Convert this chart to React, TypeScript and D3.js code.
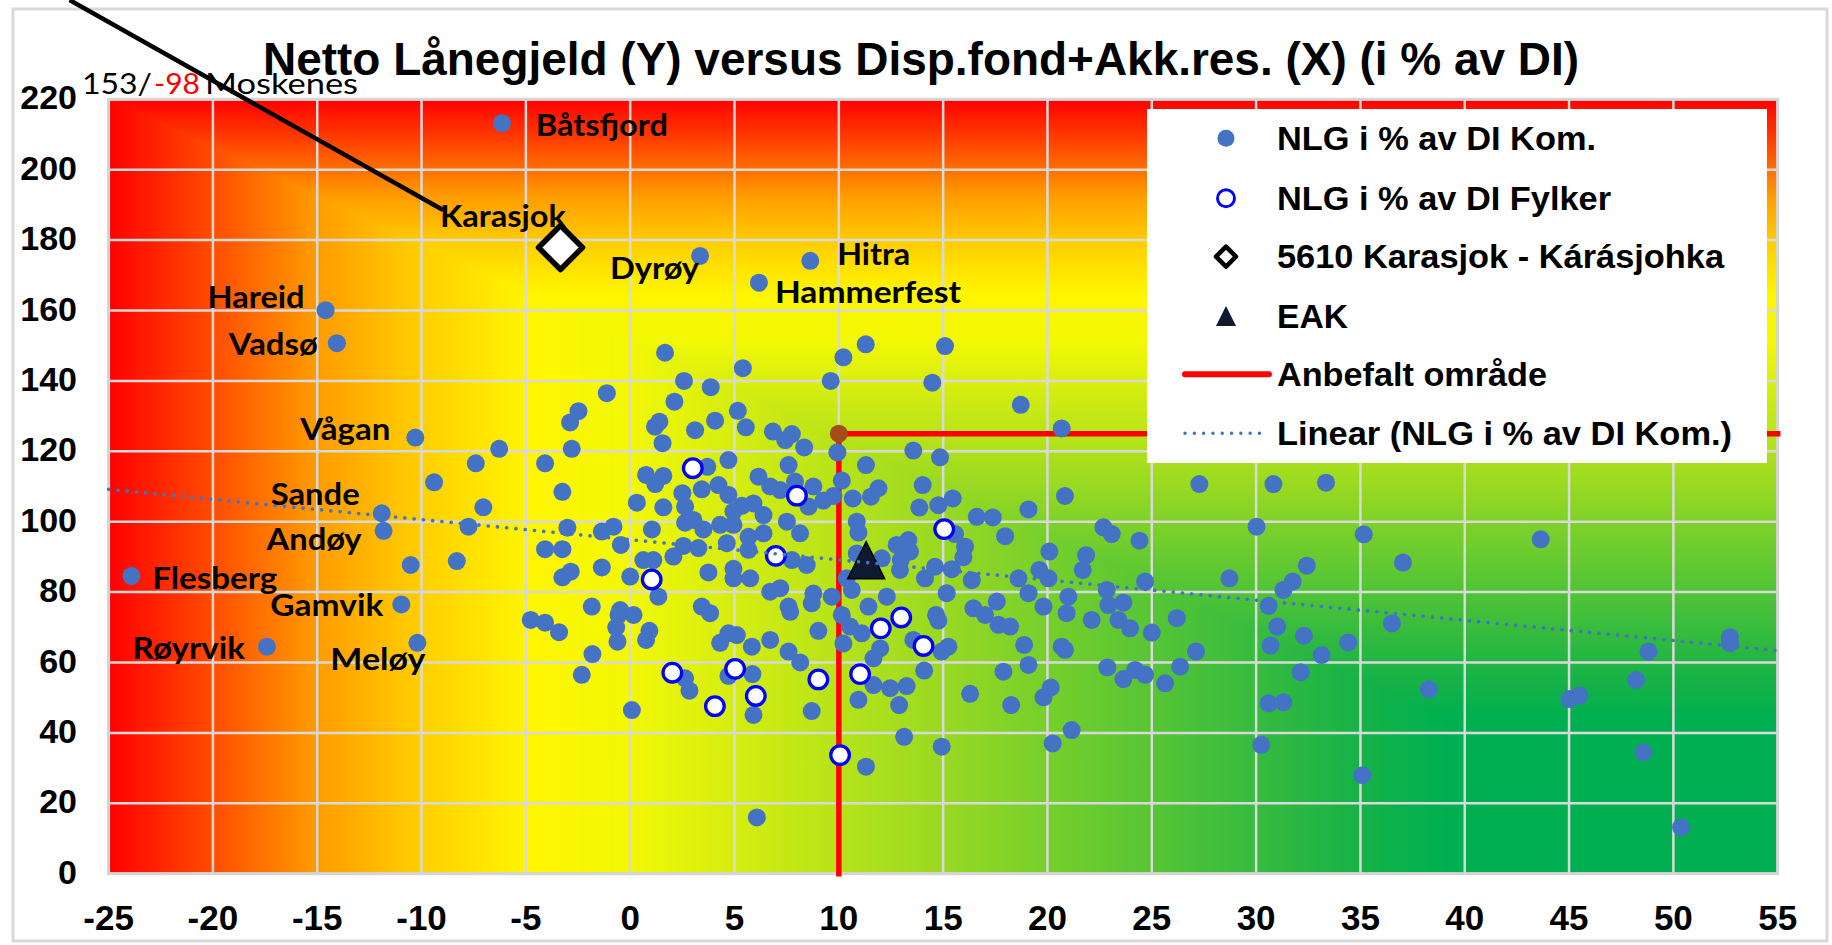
import React from "react";
import * as d3 from "d3";

// ---------- DATA ----------
const xTicks = [-25, -20, -15, -10, -5, 0, 5, 10, 15, 20, 25, 30, 35, 40, 45, 50, 55];
const yTicks = [0, 20, 40, 60, 80, 100, 120, 140, 160, 180, 200, 220];

const chartTitle = "Netto Lånegjeld (Y) versus Disp.fond+Akk.res. (X) (i % av DI)";

// NLG i % av DI Kom. (unlabelled kommuner) [Disp.fond+Akk.res, NLG]
const kommunePoints: [number, number][] = [
  [1.67,148.0],[5.4,143.6],[2.58,140.0],[3.86,138.2],[-1.12,136.5],[2.12,134.1],[5.16,131.5],[-2.48,131.4],[-2.88,128.2],[1.40,128.4],
  [4.07,128.7],[3.11,126.0],[5.54,126.8],[1.19,127.0],[1.55,122.3],[6.84,125.6],[7.75,124.9],[7.43,123.2],[8.34,121.1],[-2.8,120.7],
  [-6.28,120.7],[-7.4,116.6],[-4.08,116.6],[-9.4,111.2],[4.71,117.5],[3.7,115.6],[7.59,116.1],[0.76,113.3],[1.59,113.0],[1.2,110.7],
  [6.15,112.8],[6.71,110.0],[7.19,109.0],[7.9,111.4],[-3.25,108.5],[2.5,108.1],[3.43,109.2],[4.23,110.4],[4.71,107.6],[0.32,105.4],
  [1.59,104.1],[-7.04,104.1],[2.63,104.3],[5.35,104.5],[5.91,105.2],[8.55,104.3],[6.39,101.9],[7.51,100.0],[8.14,96.7],[2.63,99.7],
  [3.51,97.8],[4.31,99.1],[4.95,99.1],[-7.75,98.6],[-3.01,98.3],[-1.36,97.2],[-0.8,98.6],[1.04,97.8],[5.67,95.7],[6.39,96.7],
  [-4.08,92.2],[-3.25,92.2],[-0.45,93.4],[2.55,93.1],[3.27,92.5],[4.63,93.9],[5.67,92.0],[7.75,89.1],[8.46,87.7],[0.63,89.1],
  [1.11,89.1],[2.07,90.1],[-8.31,88.8],[-10.52,87.7],[-1.36,87.0],[3.75,85.6],[4.95,86.6],[5.75,83.9],[-3.25,84.2],[-2.85,85.8],
  [0.0,84.4],[1.35,78.7],[4.95,83.9],[6.71,80.1],[7.19,81.1],[8.78,79.6],[-1.84,75.9],[3.43,75.9],[-0.48,74.9],[7.59,75.9],
  [3.03,100.5],[4.95,102.9],
  [-4.77,72.1],[-4.08,71.3],[-3.41,68.6],[-0.56,73.5],[0.16,73.5],[-0.67,70.0],[-0.61,65.9],[0.92,69.0],[0.76,66.4],[-1.81,62.4],
  [-2.32,56.5],[0.08,46.5],[3.83,74.0],[4.71,68.3],[4.31,65.6],[5.11,67.8],[5.83,64.5],[6.71,66.4],[7.67,74.4],[7.59,63.1],
  [8.15,60.0],[8.7,76.8],[2.63,55.5],[2.84,52.0],[4.71,56.2],[5.86,56.7],[5.91,45.1],[6.07,16.0],[8.7,46.2],
  [11.29,150.4],[10.22,146.7],[15.09,149.9],[9.61,140.0],[14.48,139.5],[18.72,133.2],[20.68,126.5],[9.93,119.7],[13.57,120.2],[14.85,118.3],
  [11.3,116.1],[10.14,111.7],[14.02,110.4],[27.28,110.7],[20.84,107.3],[11.9,109.5],[11.54,107.1],[10.67,106.6],[9.74,107.3],[8.78,110.0],
  [9.26,106.0],[13.86,104.0],[15.46,106.6],[14.77,104.7],[19.09,103.5],[16.61,101.4],[17.38,101.2],[10.86,100.0],[10.94,96.9],[15.57,96.5],
  [17.97,95.9],[22.68,98.4],[23.08,96.5],[24.41,94.6],[20.09,91.5],[21.85,90.5],[16.05,92.9],[15.97,89.9],[14.61,87.2],[15.41,86.5],
  [16.37,83.4],[13.33,94.8],[12.77,93.4],[13.41,91.5],[12.97,89.1],[12.06,89.6],[12.93,86.3],[14.13,83.9],[10.86,91.0],[9.66,78.7],
  [10.62,80.6],[15.17,79.7],[17.57,77.3],[18.61,83.9],[19.61,86.3],[20.05,83.9],[19.09,79.7],[21.0,78.7],[21.69,86.3],[22.84,80.6],
  [23.64,77.0],[24.68,83.0],[28.72,83.9],[12.3,78.7],[10.38,83.9],
  [9.02,69.0],[10.14,73.5],[10.22,65.4],[10.54,70.2],[11.1,68.3],[11.98,64.0],[11.66,61.2],[11.42,75.9],[10.94,49.4],[11.66,53.6],
  [12.46,52.7],[13.25,53.3],[12.89,47.9],[13.13,38.9],[11.3,30.4],[14.93,36.1],[14.09,57.7],[14.66,73.5],[14.77,71.9],[15.25,64.5],
  [14.93,63.1],[13.57,66.4],[16.45,75.4],[17.01,73.5],[17.65,70.7],[18.21,70.2],[19.81,75.9],[20.92,74.0],[22.12,72.1],[18.88,65.0],
  [17.89,57.4],[19.09,59.3],[16.29,51.1],[18.26,47.9],[20.68,64.5],[20.84,63.6],[19.81,50.1],[20.16,52.9],[21.16,40.8],[20.25,37.0],
  [22.92,76.3],[23.4,72.1],[23.96,69.7],[25.0,68.5],[26.2,72.6],[27.12,63.1],[22.87,58.6],[23.64,55.3],[24.2,57.9],[24.68,56.5],
  [25.64,54.1],[26.36,58.8],
  [30.83,110.7],[33.35,111.1],[30.02,98.6],[35.16,96.4],[43.64,95.0],[37.04,88.4],[32.43,87.5],[31.75,83.0],[31.31,80.6],[30.6,76.1],
  [31.01,70.2],[32.29,67.6],[30.69,64.8],[33.14,62.1],[34.41,65.7],[36.51,71.1],[32.14,57.2],[30.6,48.4],[31.31,48.7],[38.28,52.4],
  [45.02,49.6],[45.5,50.6],[48.21,55.0],[48.81,63.1],[52.71,65.5],[52.71,67.2],[30.25,36.6],[35.09,28.0],[48.57,34.5],[50.37,13.2],
];

// Labelled kommuner
const labelledNames = ["Båtsfjord", "Dyrøy", "Hitra", "Hammerfest", "Hareid", "Vadsø", "Vågan", "Sande", "Andøy", "Flesberg", "Gamvik", "Røyrvik", "Meløy"];
const labelledX = [-6.15, 3.35, 8.63, 6.17, -14.6, -14.06, -10.3, -11.91, -11.82, -23.91, -10.97, -17.41, -10.2];
const labelledY = [213.2, 175.5, 174.1, 167.9, 160.1, 150.7, 123.9, 102.4, 97.4, 84.6, 76.5, 64.5, 65.6];

// NLG i % av DI Fylker
const fylkerPoints: [number, number][] = [
  [3.0,115.2],[7.99,107.4],[6.98,90.3],[1.03,83.6],[15.05,97.9],[2.02,57.1],[5.03,58.2],[6.02,50.5],[4.06,47.6],[9.02,55.2],
  [11.02,56.7],[12.01,69.7],[12.99,72.8],[14.06,64.7],[10.06,33.7],
];

// 5610 Karasjok - Kárásjohka
const karasjokName = "Karasjok";
const karasjokPoint: [number, number] = [-3.34, 177.9];

// EAK
const eakPoint: [number, number] = [11.31, 88.9];

// Anbefalt område
const anbefaltOmrade: [number, number][] = [[10, 0], [10, 125], [55, 125]];
const anbefaltCorner: [number, number] = [10, 125];

// Linear (NLG i % av DI Kom.) trend end points
const trendLine: [number, number][] = [[-25, 109.2], [55, 63.4]];

// Moskenes (outside the axis range), leader line in data units
const moskenesNLG = "153";
const moskenesDisp = "-98";
const moskenesName = "Moskenes";
const leaderLine: [number, number][] = [[-26.87, 248.2], [-8.97, 188.55]];

const legendLabels = [
  "NLG i % av DI Kom.",
  "NLG i % av DI Fylker",
  "5610 Karasjok - Kárásjohka",
  "EAK",
  "Anbefalt område",
  "Linear (NLG i % av DI Kom.)",
];

// ---------- LAYOUT / STYLE ----------
const W = 1832;
const H = 945;
const plot = { left: 108.6, right: 1777.7, top: 99.3, bottom: 873.7 };
const ARIAL = "'Liberation Sans', Arial, sans-serif";
const CAL = "Lato, 'Open Sans', sans-serif";
const BLUE = "#4472C4";

const labelLayout: Record<string, { dx: number; dy: number; w: number }> = {
  "Båtsfjord": { dx: 34, dy: 13, w: 132 },
  "Dyrøy": { dx: -90, dy: 23, w: 89 },
  "Hitra": { dx: 27, dy: 4, w: 73 },
  "Hammerfest": { dx: 16, dy: 20, w: 186 },
  "Hareid": { dx: -118, dy: -2, w: 97 },
  "Vadsø": { dx: -108, dy: 12, w: 89 },
  "Vågan": { dx: -115, dy: 2, w: 90 },
  "Sande": { dx: -111, dy: -8, w: 89 },
  "Andøy": { dx: -117, dy: 19, w: 95 },
  "Flesberg": { dx: 21, dy: 13, w: 125 },
  "Gamvik": { dx: -131, dy: 12, w: 113 },
  "Røyrvik": { dx: -134.5, dy: 12, w: 112.5 },
  "Meløy": { dx: -87, dy: 27, w: 95 },
  "Karasjok": { dx: -120.5, dy: -20.5, w: 126 },
};

const legendBox = { x: 1147, y: 109, w: 620, h: 354 };
const legendRowY = [138.3, 198.3, 256.7, 316, 374.3, 433.3];
const legendWidths = [319, 334, 447, 71, 270, 455];

// colour as a function of "distance" from bottom-right corner (0) to left/top edge (1)
const gradStops: [number, string][] = [
  [0, "#00B050"], [0.2, "#00B050"], [0.25, "#16B247"], [0.3125, "#36BB3E"], [0.375, "#56C535"],
  [0.4375, "#76CF2B"], [0.5, "#98D922"], [0.5625, "#B6E319"], [0.625, "#D4ED10"], [0.6875, "#F2F805"],
  [0.75, "#FFF500"], [0.8125, "#FFCF00"], [0.875, "#FF9C00"], [0.9375, "#FF4C00"], [1, "#FF0000"],
];

export default function App() {
  const x = d3.scaleLinear().domain([xTicks[0], xTicks[xTicks.length - 1]]).range([plot.left, plot.right]);
  const y = d3.scaleLinear().domain([yTicks[0], yTicks[yTicks.length - 1]]).range([plot.bottom, plot.top]);
  const line = d3.line<[number, number]>().x((d) => x(d[0])).y((d) => y(d[1]));

  const pw = plot.right - plot.left;
  const ph = plot.bottom - plot.top;

  const kx = x(karasjokPoint[0]);
  const ky = y(karasjokPoint[1]);
  const ex = x(eakPoint[0]);
  const ey = y(eakPoint[1]);

  const lgX = 1226;
  const lgTextX = 1277;

  return (
    <svg width={W} height={H} style={{ position: "absolute", left: 0, top: 0, background: "#fff" }}>
      <defs>
        <linearGradient id="gH" gradientUnits="userSpaceOnUse" x1={plot.right} y1={0} x2={plot.left} y2={0}>
          {gradStops.map(([o, c], i) => <stop key={i} offset={o} stopColor={c} />)}
        </linearGradient>
        <linearGradient id="gV" gradientUnits="userSpaceOnUse" x1={0} y1={plot.bottom} x2={0} y2={plot.top}>
          {gradStops.map(([o, c], i) => <stop key={i} offset={o} stopColor={c} />)}
        </linearGradient>
      </defs>

      {/* chart frame */}
      <rect x={13} y={9} width={1814} height={932} fill="#fff" stroke="#D9D9D9" strokeWidth={3} />

      {/* plot background: rectangular gradient from bottom-right corner */}
      <rect x={plot.left} y={plot.top} width={pw} height={ph} fill="url(#gH)" />
      <polygon
        points={`${plot.left},${plot.top} ${plot.right},${plot.top} ${plot.right},${plot.bottom}`}
        fill="url(#gV)"
      />

      {/* gridlines */}
      {xTicks.map((t) => (
        <line key={"gx" + t} x1={x(t)} x2={x(t)} y1={plot.top} y2={plot.bottom} stroke="#D9D9D9" strokeWidth={2.5} />
      ))}
      {yTicks.map((t) => (
        <line key={"gy" + t} x1={plot.left} x2={plot.right} y1={y(t)} y2={y(t)} stroke="#D9D9D9" strokeWidth={2.5} />
      ))}
      <rect x={plot.left} y={plot.top} width={pw} height={ph} fill="none" stroke="#D4D4D4" strokeWidth={3} />

      {/* tick labels */}
      {yTicks.map((t) => (
        <text key={"ty" + t} x={77} y={y(t) + 10} textAnchor="end" fontFamily={ARIAL} fontWeight="bold" fontSize={34} fill="#000">
          {t}
        </text>
      ))}
      {xTicks.map((t) => (
        <text key={"tx" + t} x={x(t)} y={930} textAnchor="middle" fontFamily={ARIAL} fontWeight="bold" fontSize={35} fill="#000">
          {t}
        </text>
      ))}

      {/* Anbefalt område */}
      <path d={line(anbefaltOmrade) || ""} fill="none" stroke="#FF0000" strokeWidth={5.5} strokeLinecap="square" />
      <circle cx={x(anbefaltCorner[0])} cy={y(anbefaltCorner[1])} r={9} fill="#A24E16" />

      {/* kommune points */}
      {kommunePoints.map((p, i) => (
        <circle key={"k" + i} cx={x(p[0])} cy={y(p[1])} r={9} fill={BLUE} />
      ))}
      {labelledNames.map((n, i) => (
        <circle key={"lp" + n} cx={x(labelledX[i])} cy={y(labelledY[i])} r={9} fill={BLUE} />
      ))}

      {/* fylker */}
      {fylkerPoints.map((p, i) => (
        <circle key={"f" + i} cx={x(p[0])} cy={y(p[1])} r={9.3} fill="#fff" stroke="#0000FF" strokeWidth={3.3} />
      ))}

      {/* Karasjok */}
      <path
        d={`M${kx},${ky - 22} L${kx + 22},${ky} L${kx},${ky + 22} L${kx - 22},${ky} Z`}
        fill="#fff"
        stroke="#000"
        strokeWidth={5.5}
        strokeLinejoin="round"
      />

      {/* EAK */}
      <path d={`M${ex},${ey - 19} L${ex + 18.5},${ey + 18} L${ex - 18.5},${ey + 18} Z`} fill="#0E1A30" stroke="#000" strokeWidth={1.5} />

      {/* trendline */}
      <path
        d={line(trendLine) || ""}
        fill="none"
        stroke={BLUE}
        strokeWidth={3.6}
        strokeDasharray="0.1 9.2"
        strokeLinecap="round"
      />

      {/* labels */}
      {labelledNames.map((n, i) => {
        const L = labelLayout[n];
        return (
          <text
            key={"lt" + n}
            x={x(labelledX[i]) + L.dx}
            y={y(labelledY[i]) + L.dy}
            fontFamily={CAL}
            fontWeight="bold"
            fontSize={30}
            textLength={L.w}
            lengthAdjust="spacingAndGlyphs"
            fill="#000"
          >
            {n}
          </text>
        );
      })}
      <text
        x={kx + labelLayout[karasjokName].dx}
        y={ky + labelLayout[karasjokName].dy}
        fontFamily={CAL}
        fontWeight="bold"
        fontSize={30}
        textLength={labelLayout[karasjokName].w}
        lengthAdjust="spacingAndGlyphs"
        fill="#000"
      >
        {karasjokName}
      </text>

      {/* legend */}
      <rect x={legendBox.x} y={legendBox.y} width={legendBox.w} height={legendBox.h} fill="#fff" />
      <circle cx={lgX} cy={legendRowY[0]} r={8.5} fill={BLUE} />
      <circle cx={lgX} cy={legendRowY[1]} r={8.5} fill="#fff" stroke="#0000FF" strokeWidth={3} />
      <path
        d={`M${lgX},${legendRowY[2] - 10} L${lgX + 10},${legendRowY[2]} L${lgX},${legendRowY[2] + 10} L${lgX - 10},${legendRowY[2]} Z`}
        fill="#fff"
        stroke="#000"
        strokeWidth={4.5}
        strokeLinejoin="round"
      />
      <path
        d={`M${lgX},${legendRowY[3] - 10} L${lgX + 10},${legendRowY[3] + 10} L${lgX - 10},${legendRowY[3] + 10} Z`}
        fill="#0E1A30"
      />
      <line x1={1185} x2={1269} y1={legendRowY[4]} y2={legendRowY[4]} stroke="#FF0000" strokeWidth={6} strokeLinecap="round" />
      <line
        x1={1185}
        x2={1268}
        y1={legendRowY[5]}
        y2={legendRowY[5]}
        stroke={BLUE}
        strokeWidth={3.4}
        strokeDasharray="0.1 9.2"
        strokeLinecap="round"
      />
      {legendLabels.map((t, i) => (
        <text
          key={"lg" + i}
          x={lgTextX}
          y={legendRowY[i] + 11.7}
          fontFamily={ARIAL}
          fontWeight="bold"
          fontSize={33}
          textLength={legendWidths[i]}
          lengthAdjust="spacingAndGlyphs"
          fill="#000"
        >
          {t}
        </text>
      ))}

      {/* Moskenes annotation */}
      <text x={82} y={94} fontFamily={CAL} fontSize={29} textLength={70} lengthAdjust="spacingAndGlyphs" fill="#000">
        {moskenesNLG + "/"}
      </text>
      <text x={154} y={94} fontFamily={CAL} fontSize={29} textLength={46} lengthAdjust="spacingAndGlyphs" fill="#FF0000">
        {moskenesDisp}
      </text>
      <text x={205} y={94} fontFamily={CAL} fontSize={29} textLength={153} lengthAdjust="spacingAndGlyphs" fill="#000">
        {moskenesName}
      </text>
      <path d={line(leaderLine) || ""} stroke="#000" strokeWidth={4.5} fill="none" />

      {/* title */}
      <text
        x={263}
        y={75}
        fontFamily={ARIAL}
        fontWeight="bold"
        fontSize={46}
        textLength={1316}
        lengthAdjust="spacingAndGlyphs"
        fill="#000"
      >
        {chartTitle}
      </text>
    </svg>
  );
}
